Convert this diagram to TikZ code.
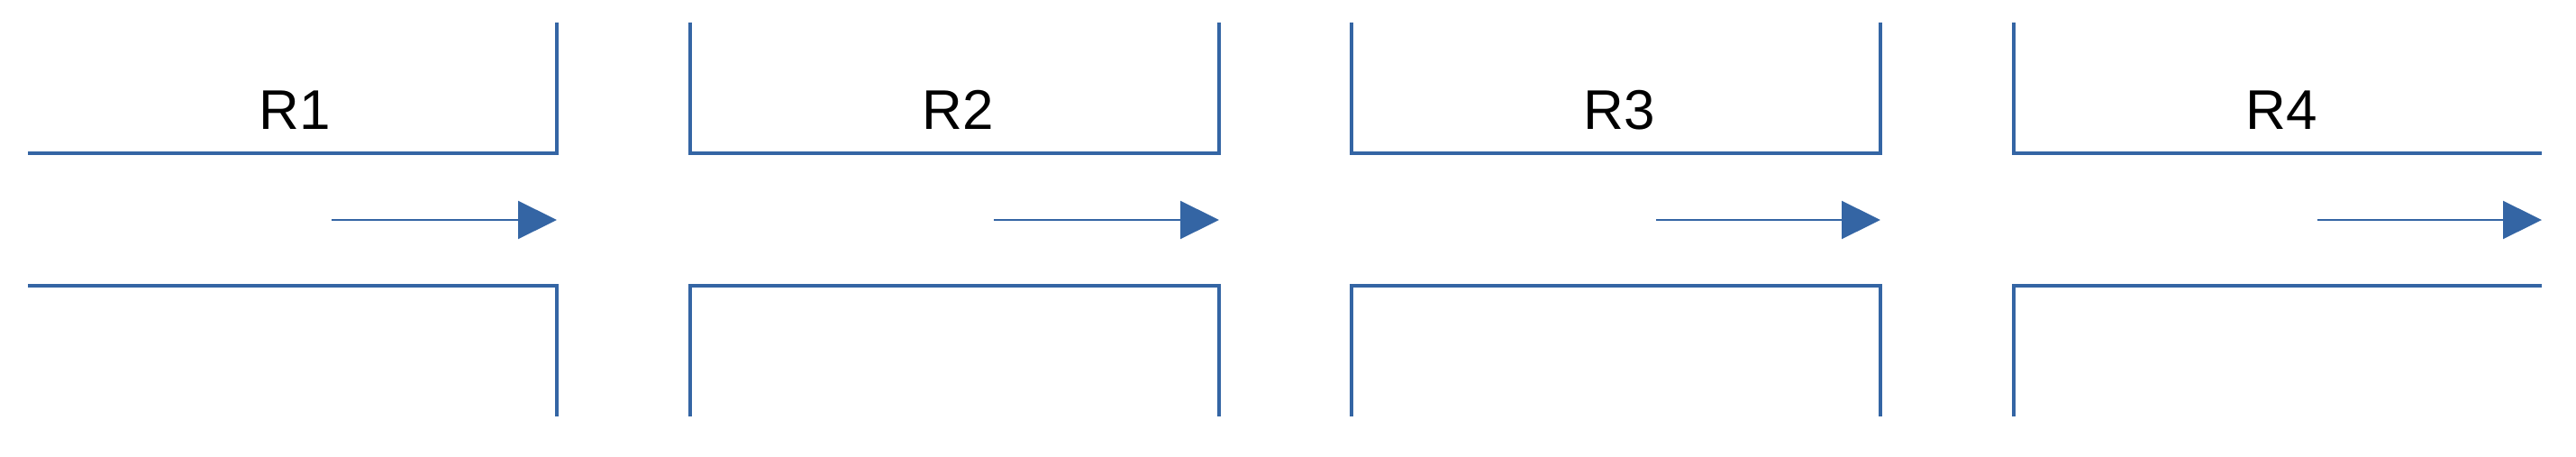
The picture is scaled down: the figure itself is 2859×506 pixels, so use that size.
\documentclass[tikz,border=0pt]{standalone}
\usepackage{fontspec}
\setmainfont{Liberation Sans}
\usetikzlibrary{arrows.meta}
\definecolor{wallblue}{RGB}{52,101,164}
\tikzset{
  wall/.style={draw=wallblue, line width=4.3pt, line join=miter},
  flow/.style={draw=wallblue, line width=2.2pt, -{Triangle[length=43pt,width=42pt]}},
  roomlabel/.style={font=\fontsize{62}{74}\selectfont, text=black, inner sep=0pt}
}
\begin{document}
\begin{tikzpicture}[x=1pt,y=-1pt]
\useasboundingbox (0,0) rectangle (2859,506);
\fill[white] (0,0) rectangle (2859,506);
% R1
\draw[wall] (31,170) -- (618,170) -- (618,25);
\draw[wall] (31,317) -- (618,317) -- (618,462);
% R2
\draw[wall] (766,25) -- (766,170) -- (1353,170) -- (1353,25);
\draw[wall] (766,462) -- (766,317) -- (1353,317) -- (1353,462);
% R3
\draw[wall] (1500,25) -- (1500,170) -- (2087,170) -- (2087,25);
\draw[wall] (1500,462) -- (1500,317) -- (2087,317) -- (2087,462);
% R4
\draw[wall] (2235,25) -- (2235,170) -- (2821,170);
\draw[wall] (2235,462) -- (2235,317) -- (2821,317);
% labels
\node[roomlabel] (l1) at (327,122) {R1};
\node[roomlabel] (l2) at (1063,122) {R2};
\node[roomlabel] (l3) at (1797,122) {R3};
\node[roomlabel] (l4) at (2532,122) {R4};
% flow arrows
\coordinate (a1s) at (368,244); \coordinate (a1e) at (618,244);
\coordinate (a2s) at (1103,244); \coordinate (a2e) at (1353,244);
\coordinate (a3s) at (1838,244); \coordinate (a3e) at (2087,244);
\coordinate (a4s) at (2572,244); \coordinate (a4e) at (2821,244);
\draw[flow] (a1s) -- (a1e);
\draw[flow] (a2s) -- (a2e);
\draw[flow] (a3s) -- (a3e);
\draw[flow] (a4s) -- (a4e);
\end{tikzpicture}
\end{document}
